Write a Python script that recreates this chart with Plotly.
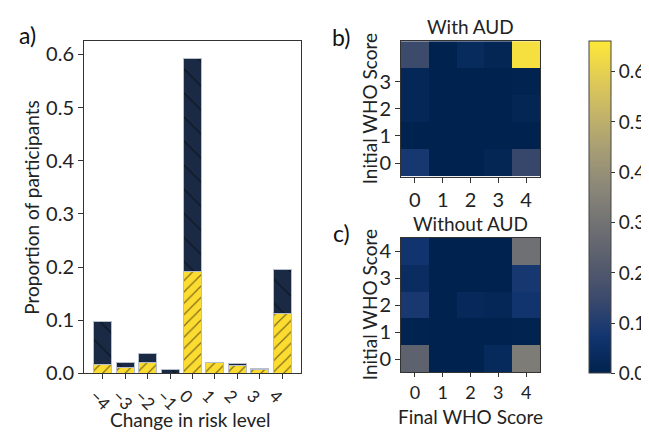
import plotly.graph_objects as go

# ---- data ----
change_levels = [-4, -3, -2, -1, 0, 1, 2, 3, 4]
total_prop = [0.098, 0.021, 0.037, 0.007, 0.593, 0.021, 0.018, 0.010, 0.195]
aud_prop = [0.017, 0.011, 0.021, 0.0, 0.192, 0.021, 0.015, 0.007, 0.112]
other_prop = [t - a for t, a in zip(total_prop, aud_prop)]

who_scores = [0, 1, 2, 3, 4]
# rows = initial score 0..4, cols = final score 0..4
with_aud = [
    [0.08, 0.0, 0.0, 0.015, 0.14],
    [0.0, 0.0, 0.0, 0.0, 0.0],
    [0.02, 0.0, 0.0, 0.0, 0.015],
    [0.02, 0.0, 0.0, 0.0, 0.005],
    [0.15, 0.0, 0.033, 0.015, 0.64],
]
without_aud = [
    [0.24, 0.0, 0.0, 0.03, 0.33],
    [0.005, 0.0, 0.0, 0.0, 0.005],
    [0.085, 0.0, 0.025, 0.02, 0.07],
    [0.04, 0.0, 0.0, 0.0, 0.08],
    [0.07, 0.0, 0.0, 0.0, 0.29],
]
cbar_ticks = [0.0, 0.1, 0.2, 0.3, 0.4, 0.5, 0.6]

W, H = 649, 433
FONT = "Lato"
NAVY = "#1b2a44"
YELLOW = "#fddc32"
TICK = 20
TITLE = 19


def px_x(a, b):
    return [a / W, b / W]


def px_y(top, bottom):
    return [1 - bottom / H, 1 - top / H]


fig = go.Figure()

fig.add_trace(go.Bar(
    x=change_levels, y=aud_prop, width=0.8,
    marker=dict(color=YELLOW, line=dict(color="#b8bfcc", width=1),
                pattern=dict(shape="/", fgcolor="black", bgcolor=YELLOW,
                             size=8, solidity=0.15, fillmode="overlay")),
    xaxis="x", yaxis="y", showlegend=False,
))
fig.add_trace(go.Bar(
    x=change_levels, y=other_prop, width=0.8,
    marker=dict(color=NAVY, line=dict(color="#b8bfcc", width=1),
                pattern=dict(shape="\\", fgcolor="black", bgcolor=NAVY,
                             size=17, solidity=0.07, fillmode="overlay")),
    xaxis="x", yaxis="y", showlegend=False,
))

fig.add_trace(go.Heatmap(
    z=with_aud, x=who_scores, y=who_scores, colorscale="Cividis",
    zmin=0, zmax=0.66, xaxis="x2", yaxis="y2", showscale=False,
))
fig.add_trace(go.Heatmap(
    z=without_aud, x=who_scores, y=who_scores, colorscale="Cividis",
    zmin=0, zmax=0.66, xaxis="x3", yaxis="y3", showscale=True,
    colorbar=dict(
        x=581 / W, xanchor="left", xpad=0, ypad=0,
        y=1 - 375 / H, yanchor="bottom",
        len=341 / H, lenmode="fraction", thickness=22, thicknessmode="pixels",
        outlinewidth=1, outlinecolor="#444",
        tickvals=cbar_ticks, tickformat=".1f", ticks="outside", ticklen=4,
        tickcolor="#333",
        tickfont=dict(size=19, color="#222", family=FONT),
    ),
))

axis_common = dict(showline=True, linecolor="#333", linewidth=1, mirror=True,
                   ticks="outside", ticklen=5, tickcolor="#333",
                   showgrid=False, zeroline=False)
tickfont = dict(size=TICK, color="#222", family=FONT)


def ann(text, x, y, size=TITLE, angle=0, color="#222"):
    return dict(text=text, x=x / W, y=1 - y / H, xref="paper", yref="paper",
                xanchor="center", yanchor="middle", showarrow=False,
                textangle=angle, font=dict(size=size, color=color, family=FONT))


fig.update_layout(
    width=W, height=H, margin=dict(l=0, r=0, t=0, b=0),
    paper_bgcolor="white", plot_bgcolor="white",
    barmode="stack", bargap=0.2,
    font=dict(family=FONT, color="#222"),
    xaxis=dict(domain=px_x(76, 293), range=[-4.84, 4.84], tickvals=change_levels,
               tickangle=45, ticklabelshift=-8, anchor="y",
               tickfont=dict(size=17, color="#222", family=FONT), **axis_common),
    yaxis=dict(domain=px_y(34, 375), range=[0, 0.625],
               tickvals=[0, 0.1, 0.2, 0.3, 0.4, 0.5, 0.6], tickformat=".1f", anchor="x",
               tickfont=tickfont, **axis_common),
    xaxis2=dict(domain=px_x(393, 532), range=[-0.5, 4.5], tickvals=who_scores,
                anchor="y2", tickfont=tickfont, **axis_common),
    yaxis2=dict(domain=px_y(34, 173), range=[-0.5, 4.5], tickvals=[0, 1, 2, 3],
                anchor="x2", tickfont=tickfont, **axis_common),
    xaxis3=dict(domain=px_x(393, 532), range=[-0.5, 4.5], tickvals=who_scores,
                anchor="y3", tickfont=dict(size=18, color="#222", family=FONT),
                showline=True, linecolor="#333", linewidth=1, mirror=True,
                ticks="outside", ticklen=4, tickcolor="#333",
                showgrid=False, zeroline=False),
    yaxis3=dict(domain=px_y(236, 374), range=[-0.5, 4.5], tickvals=who_scores,
                anchor="x3", tickfont=tickfont, **axis_common),
    annotations=[
        ann("a)", 19, 28, size=23, color="#111"),
        ann("b)", 333, 30, size=23, color="#111"),
        ann("c)", 333, 231, size=23, color="#111"),
        ann("With AUD", 462, 19),
        ann("Without AUD", 462, 221),
        ann("Change in risk level", 182, 422),
        ann("Proportion of participants", 24, 205, angle=-90),
        ann("Initial WHO Score", 361, 104, angle=-90),
        ann("Initial WHO Score", 361, 305, angle=-90),
        ann("Final WHO Score", 462, 419),
    ],
)

fig.write_html("out.html")
